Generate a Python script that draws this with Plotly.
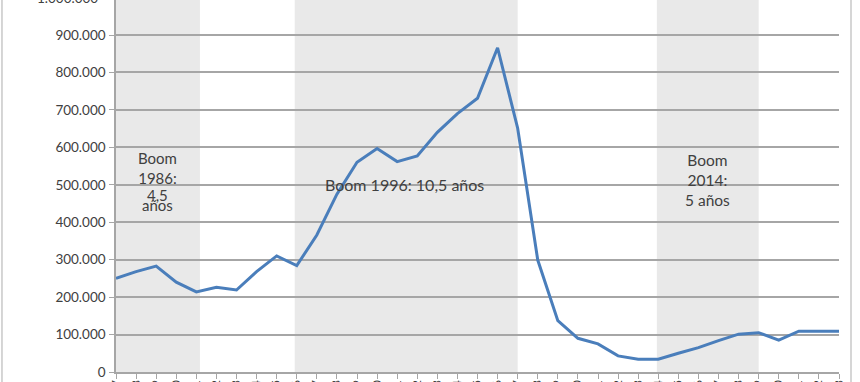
import plotly.graph_objects as go

years = list(range(1987, 2024))
values = [250000, 268000, 283000, 240000, 214000, 226000, 219000, 268000, 310000, 284000,
          366000, 475000, 560000, 597000, 562000, 577000, 640000, 690000, 731000, 866000,
          651000, 299000, 137000, 90000, 75000, 43000, 34000, 34000, 50000, 65000,
          84000, 101000, 105000, 85000, 109000, 109000, 109000]

band_start = [1987, 1995.9, 2013.93]
band_end = [1991.18, 2007, 2019]

y_ticks = [0, 100000, 200000, 300000, 400000, 500000, 600000, 700000, 800000, 900000]

FONT = "Lato"
TXT = "#404040"
GRID = "#a6a6a6"

fig = go.Figure()

fig.add_trace(go.Scatter(
    x=years, y=values, mode="lines",
    line=dict(color="#4a7ebb", width=3),
    hoverinfo="skip", showlegend=False,
))

shapes = []
for s, e in zip(band_start, band_end):
    shapes.append(dict(type="rect", xref="x", yref="paper", x0=s, x1=e, y0=0, y1=1,
                       fillcolor="#e9e9e9", line=dict(width=0), layer="below"))
# chart area border lines
for xp in [-0.1577, 1.0166]:
    shapes.append(dict(type="line", xref="paper", yref="paper", x0=xp, x1=xp, y0=-0.2, y1=1.2,
                       line=dict(color="#c8c8c8", width=1.5)))

annotations = [
    dict(x=-0.022, xref="paper", y=1.0067, yref="paper", text="1.000.000", showarrow=False,
         xanchor="right", yanchor="middle", font=dict(family=FONT, size=13.5, color=TXT)),
    dict(x=1989.05, y=545000, text="Boom<br>1986:", showarrow=False,
         font=dict(family=FONT, size=15, color=TXT), align="center", yanchor="middle"),
    dict(x=1989.05, y=474000, text="4,5", showarrow=False,
         font=dict(family=FONT, size=15, color=TXT), yanchor="middle"),
    dict(x=1989.05, y=447000, text="años", showarrow=False,
         font=dict(family=FONT, size=15, color=TXT), yanchor="middle"),
    dict(x=2001.35, y=502000, text="Boom 1996: 10,5 años", showarrow=False,
         font=dict(family=FONT, size=16, color=TXT), yanchor="middle"),
    dict(x=2016.45, y=512000, text="Boom<br>2014:<br>5 años", showarrow=False,
         font=dict(family=FONT, size=15.5, color=TXT), align="center", yanchor="middle"),
]

fig.update_layout(
    width=860, height=382,
    margin=dict(l=116, r=21, t=0, b=10, autoexpand=False),
    paper_bgcolor="white", plot_bgcolor="white",
    separators=",.",
    shapes=shapes, annotations=annotations,
    font=dict(family=FONT, color=TXT),
    xaxis=dict(
        range=[1987, 2023], tickvals=years, ticktext=[str(y) for y in years],
        tickangle=-90, ticks="outside", ticklen=5, tickcolor=GRID,
        showgrid=False, showline=True, linecolor=GRID, linewidth=1.5,
        tickfont=dict(family=FONT, size=11, color=TXT), zeroline=False,
        automargin=False, ticklabelstandoff=-3,
    ),
    yaxis=dict(
        range=[0, 993500], tickvals=y_ticks, tickformat=",.0f",
        ticks="outside", ticklen=5, tickcolor=GRID,
        showgrid=True, gridcolor=GRID, gridwidth=1.5,
        showline=True, linecolor=GRID, linewidth=1.5, zeroline=False,
        tickfont=dict(family=FONT, size=13.5, color=TXT), ticklabelstandoff=1,
        automargin=False,
    ),
)

fig.write_html("out.html")
